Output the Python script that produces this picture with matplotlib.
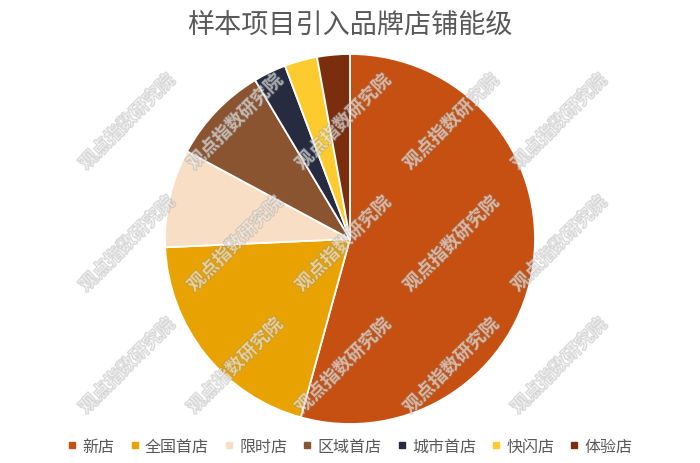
import matplotlib
matplotlib.use("Agg")
import matplotlib.pyplot as plt
import matplotlib.patheffects as pe
from matplotlib.lines import Line2D

plt.rcParams['font.family'] = ['Noto Sans CJK SC', 'DejaVu Sans']

# data (store counts)
labels = ['新店', '全国首店', '限时店', '区域首店', '城市首店', '快闪店', '体验店']
counts = [38, 14, 6, 6, 2, 2, 2]
colors = ['#C55011', '#E8A202', '#F8DEC4', '#8A5431', '#262B40', '#FDCB2E', '#7A2E0D']

title = '样本项目引入品牌店铺能级'
watermark = '观点指数研究院'
wm_x = [127, 235, 343, 451, 559]
wm_y = [123, 245, 367]

W, H = 700, 464
fig = plt.figure(figsize=(W / 100, H / 100), dpi=100)

# pie axes: centre (350, 240), radius 185 px
cx, cy, r = 350, 240, 185
ax = fig.add_axes([(cx - r) / W, (H - cy - r) / H, 2 * r / W, 2 * r / H])
ax.pie(counts, colors=colors, startangle=90, counterclock=False,
       wedgeprops=dict(edgecolor='white', linewidth=1.3))
ax.set_xlim(-1, 1)
ax.set_ylim(-1, 1)
ax.set_aspect('equal')
ax.axis('off')

fig.text(0.5, 1 - 25 / H, title, ha='center', va='center',
         fontsize=19.5, color='#595959')

# legend
handles = [Line2D([0], [0], marker='s', linestyle='none', markersize=5,
                  markerfacecolor=c, markeredgecolor=c) for c in colors]
fig.legend(handles, labels, loc='center', bbox_to_anchor=(0.5, 1 - 447 / H),
           ncol=len(labels), frameon=False, fontsize=11.5,
           handlelength=0.6, handletextpad=0.35, columnspacing=0.95,
           labelcolor='#595959')

# watermarks
for y in wm_y:
    for x in wm_x:
        fig.text(x / W, 1 - y / H, watermark, rotation=45, ha='center', va='center',
                 fontsize=13, fontweight='bold', color='white', alpha=0.35,
                 path_effects=[pe.withStroke(linewidth=1.2, foreground=(0.55, 0.55, 0.55, 0.3))])

fig.savefig('out.png', dpi=100)
